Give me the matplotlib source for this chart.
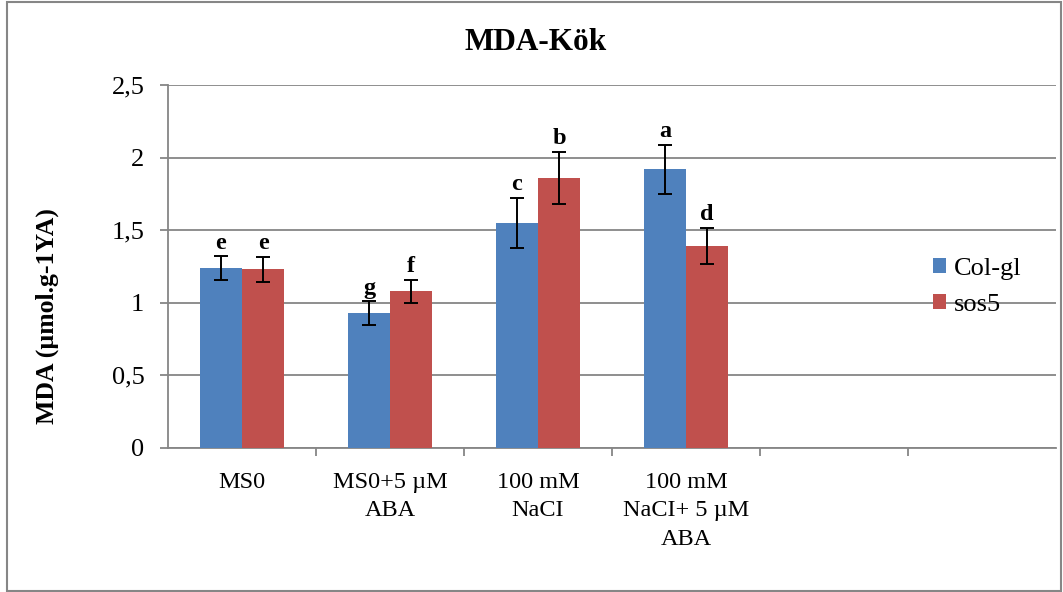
import numpy as np
import matplotlib
matplotlib.use("Agg")
import matplotlib.pyplot as plt
from matplotlib.patches import Rectangle

plt.rcParams['font.family'] = ['Liberation Serif', 'DejaVu Serif']

# ---- data ----
categories = ["MS0", "MS0+5 µM\nABA", "100 mM\nNaCI", "100 mM\nNaCI+ 5 µM\nABA"]
n_slots = 6
series_names = ["Col-gl", "sos5"]
col_values = [1.24, 0.93, 1.55, 1.92]
col_errors = [0.08, 0.08, 0.175, 0.17]
sos_values = [1.23, 1.08, 1.86, 1.39]
sos_errors = [0.085, 0.08, 0.18, 0.125]
col_letters = ["e", "g", "c", "a"]
sos_letters = ["e", "f", "b", "d"]
yticks = [0, 0.5, 1, 1.5, 2, 2.5]
ytick_labels = ["0", "0,5", "1", "1,5", "2", "2,5"]
title = "MDA-Kök"
ylabel = "MDA (µmol.g-1YA)"

blue = "#4F81BD"
red = "#C0504D"
gray = "#868686"

W, H = 1063, 592
fig = plt.figure(figsize=(W / 100, H / 100), dpi=100)
fig.patches.append(Rectangle((6.5 / W, 1 / H), (1061 - 6.5) / W, (590.5 - 1) / H,
                             transform=fig.transFigure, fill=False,
                             edgecolor=gray, linewidth=1.5))

ax = fig.add_axes([168 / W, 1 - 448 / H, (1056 - 168) / W, (448 - 85) / H])

x = np.arange(len(categories))
bw = 0.284
ax.bar(x - bw / 2, col_values, bw, color=blue, label=series_names[0], zorder=3)
ax.bar(x + bw / 2, sos_values, bw, color=red, label=series_names[1], zorder=3)
ax.errorbar(x - bw / 2, col_values, yerr=col_errors, fmt="none", ecolor="black",
            elinewidth=1.4, capsize=5, capthick=1.4, zorder=4)
ax.errorbar(x + bw / 2, sos_values, yerr=sos_errors, fmt="none", ecolor="black",
            elinewidth=1.4, capsize=5, capthick=1.4, zorder=4)

for xs, vals, errs, letters in [(x - bw / 2, col_values, col_errors, col_letters),
                                (x + bw / 2, sos_values, sos_errors, sos_letters)]:
    for xi, v, e, t in zip(xs, vals, errs, letters):
        ax.annotate(t, (xi, v + e), xytext=(0, 2), textcoords="offset points",
                    ha="center", va="bottom", fontsize=17.5, fontweight="bold")

ax.set_xlim(-0.5, n_slots - 0.5)
ax.set_ylim(0, 2.5)
ax.set_yticks(yticks)
ax.set_yticklabels(ytick_labels, fontsize=19)
ax.yaxis.grid(True, color=gray, linewidth=1.3, zorder=0)
ax.set_axisbelow(True)

ax.set_xticks(np.arange(0.5, n_slots - 1, 1.0))
ax.set_xticklabels([])
ax.set_xticks(x, minor=True)
ax.set_xticklabels(categories, minor=True, fontsize=17.5, linespacing=1.48)
ax.tick_params(axis="x", which="minor", length=0, pad=17)
ax.tick_params(axis="x", which="major", length=6, color=gray, width=1.3)
ax.tick_params(axis="y", length=6, color=gray, width=1.3, pad=11)

for s in ["top", "right"]:
    ax.spines[s].set_visible(False)
for s in ["left", "bottom"]:
    ax.spines[s].set_color(gray)
    ax.spines[s].set_linewidth(1.3)

fig.text(47 / W, 1 - 316 / H, ylabel, rotation=90, ha="center", va="center",
         fontsize=18.5, fontweight="bold")

fig.text(536 / W, 1 - 43 / H, title, ha="center", va="center",
         fontsize=22.5, fontweight="bold")

ax.legend(loc="center left", bbox_to_anchor=(933 / W, 1 - 287 / H),
          bbox_transform=fig.transFigure, frameon=False, fontsize=19,
          handlelength=0.5, handleheight=0.5, handletextpad=0.3, labelspacing=0.55,
          borderpad=0, borderaxespad=0)

fig.savefig("out.png", dpi=100)
